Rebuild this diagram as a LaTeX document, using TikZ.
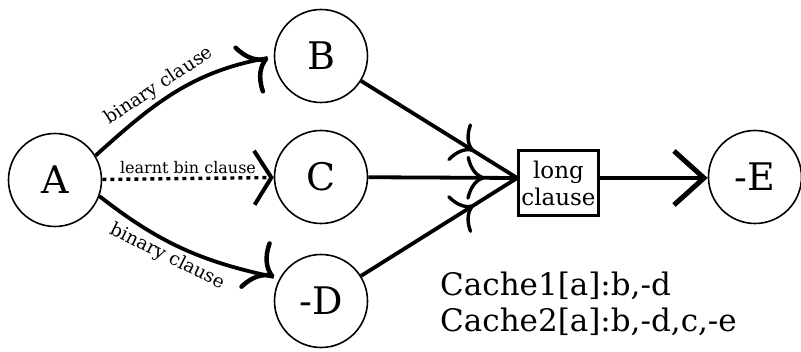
\documentclass[tikz,border=0pt]{standalone}
\usepackage{fontspec}
\setmainfont{DejaVu Serif}
\usetikzlibrary{arrows.meta,calc,decorations.markings}
\begin{document}
\begin{tikzpicture}[x=1pt,y=1pt,
  state/.style={circle,draw,line width=1.6pt,minimum size=93pt,inner sep=0pt,
    font=\fontsize{38}{42}\selectfont},
  clausebox/.style={draw,line width=2.6pt,minimum width=80pt,minimum height=65pt,
    inner sep=0pt,align=center,font=\fontsize{23}{27}\selectfont},
  edge/.style={line width=3.8pt},
  lbl/.style={font=\fontsize{18.5}{20}\selectfont,inner sep=3pt},
  dlbl/.style={font=\fontsize{16}{18}\selectfont,inner sep=3pt},
  cachetext/.style={font=\fontsize{31}{36}\selectfont,anchor=base west,inner sep=0pt},
  cmbarb/.style={-{Computer Modern Rightarrow[length=24pt,width=56pt,line width=4.5pt]}},
  bigbarb/.style={-{Straight Barb[length=30pt,width=54pt,line width=5pt]}},
  dotbarb/.style={-{Straight Barb[length=17pt,width=54pt,line width=4pt]}},
  midarrow/.style={postaction={decorate},decoration={markings,
    mark=at position #1 with {\arrow{Computer Modern Rightarrow[length=18pt,width=44pt,line width=3.4pt]}}}}
]
\useasboundingbox (0,0) rectangle (801,352);

% literals
\node[state] (A) at (55,172) {A};
\node[state] (B) at (321,296) {B};
\node[state] (C) at (321,175) {C};
\node[state] (D) at (321,51) {-D};
\node[state] (E) at (755,175) {-E};
\node[clausebox] (L) at (558.5,169) {long\\clause};

% attachment points
\coordinate (Lin) at ($(L.west)+(0,5)$);
\coordinate (Lout) at ($(L.east)+(0,5)$);
\coordinate (tipB) at ($(B.west)+(-6,-2)$);
\coordinate (tipD) at ($(D.center)+(153:53)$);

% binary clauses from A
\draw[edge] (A.31) to[out=42,in=190]
  node[lbl,pos=0.45,sloped,above] {binary clause} (tipB);
\draw[edge,cmbarb] ($(tipB)+(212:0.5)$) -- (tipB);
\draw[edge] (A.-20) to[out=-38,in=168]
  node[lbl,pos=0.45,sloped,below] {binary clause} (tipD);
\draw[edge,cmbarb] ($(tipD)+(147:0.5)$) -- (tipD);

% learnt binary clause
\draw[line width=3.4pt,dash pattern=on 4pt off 4pt,dotbarb] (A) -- (C)
  node[dlbl,midway,above] {learnt bin clause};

% long clause
\draw[edge,midarrow=0.72] (B) -- (Lin);
\draw[edge,midarrow=0.78] (C) -- (Lin);
\draw[edge,midarrow=0.72] (D) -- (Lin);
\draw[edge,bigbarb] (Lout) -- (Lout -| E.west);

% caches
\node[cachetext] (cache1) at (440,56) {Cache1[a]:b,-d};
\node[cachetext] (cache2) at (440,20) {Cache2[a]:b,-d,c,-e};
\end{tikzpicture}
\end{document}
